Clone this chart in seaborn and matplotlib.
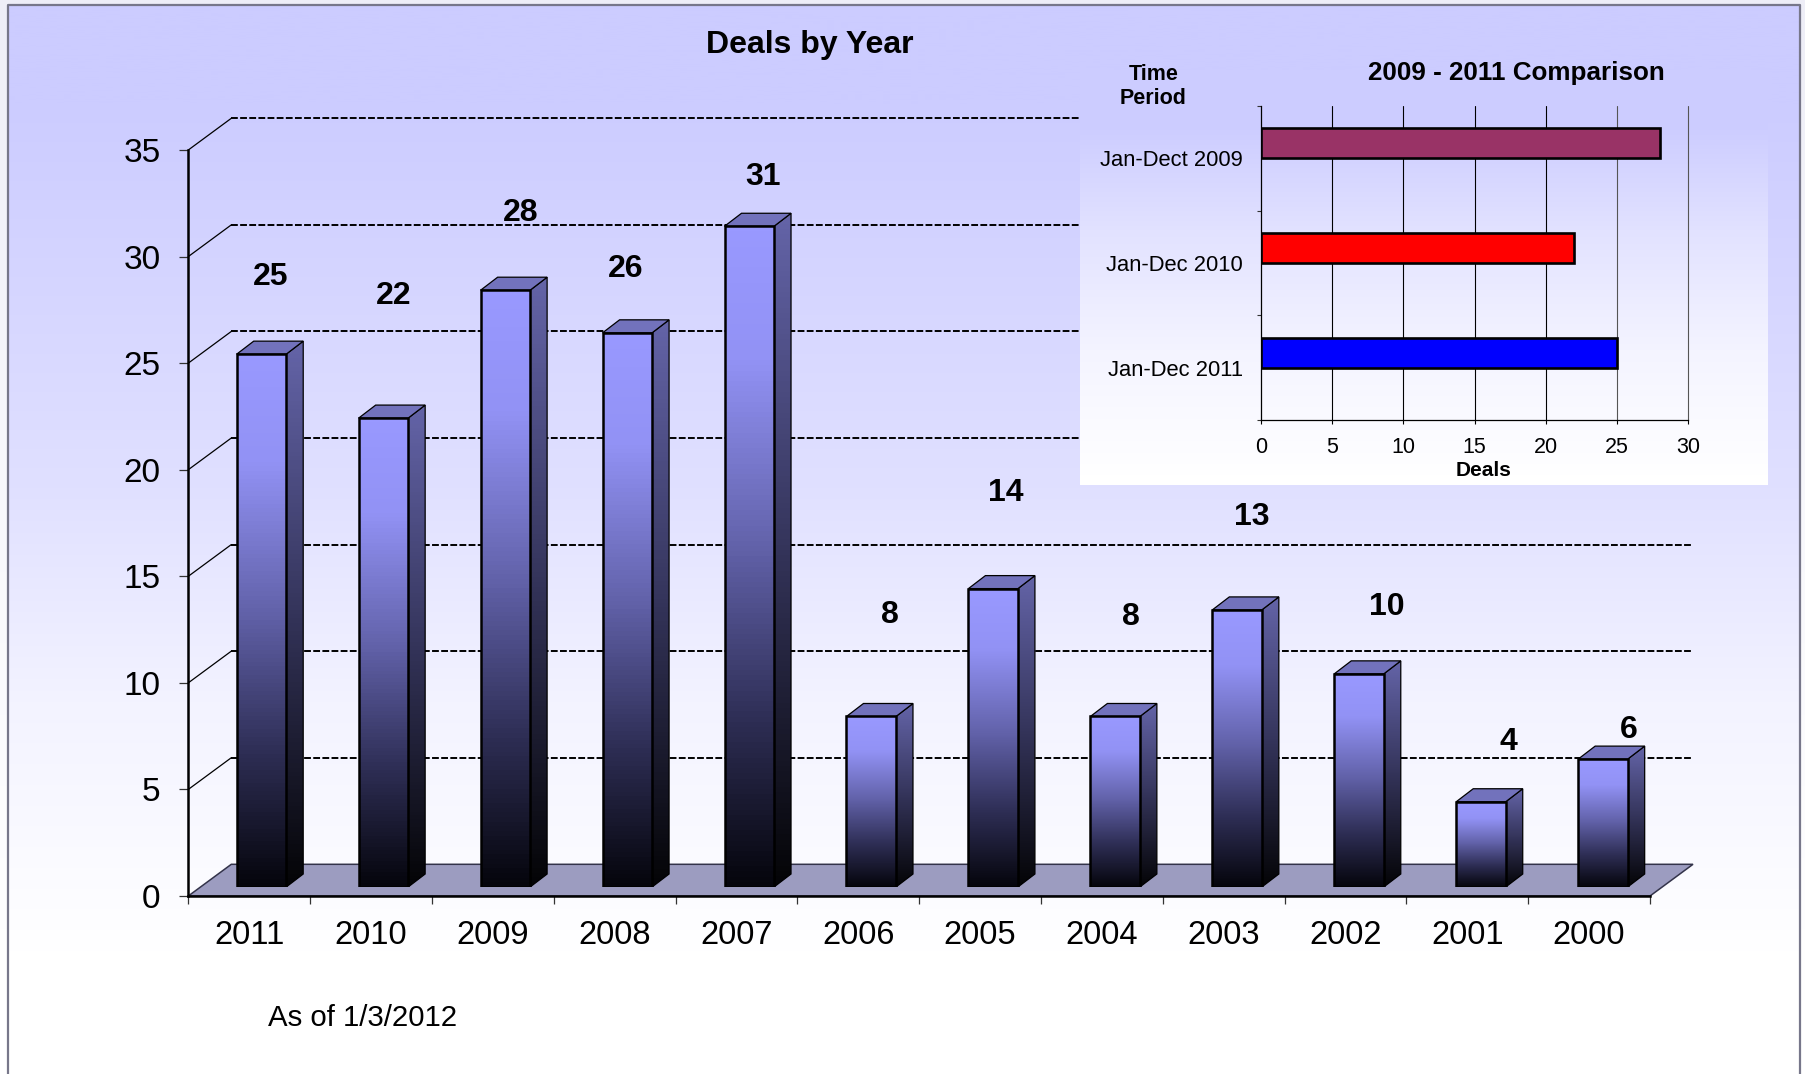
"""
Deals by Year: pseudo-3D column chart with a small 2009 - 2011 comparison inset.
"""

import numpy as np
import pandas as pd
import matplotlib
matplotlib.use('Agg')
import matplotlib.pyplot as plt
from matplotlib.colors import LinearSegmentedColormap
from matplotlib.patches import Polygon, Rectangle
import seaborn as sns

YEARS = ['2011', '2010', '2009', '2008', '2007', '2006',
         '2005', '2004', '2003', '2002', '2001', '2000']
DEALS = [25, 22, 28, 26, 31, 8, 14, 8, 13, 10, 4, 6]
Y_TICKS = [0, 5, 10, 15, 20, 25, 30, 35]

PERIODS = ['Jan-Dect 2009', 'Jan-Dec 2010', 'Jan-Dec 2011']
PERIOD_DEALS = [28, 22, 25]
PERIOD_COLORS = ['#993366', '#FF0000', '#0000FF']
INSET_TICKS = [0, 5, 10, 15, 20, 25, 30]

# the value labels float at uneven distances from the columns (pixels from bar top centre)
LABEL_DX = [9, 10, 15.5, -1.5, 14, 18.5, 12.5, 15.5, 14.5, 27.5, 27, 25.5]
LABEL_DY = [77, 122, 77.5, 64, 49, 101, 96, 99.5, 92.5, 67, 60, 29]

W, H = 1805, 1074
DPI = 100


def axes_px(fig, left, top, right, bottom, **kw):
    return fig.add_axes([left / W, 1 - bottom / H, (right - left) / W, (bottom - top) / H], **kw)


def vgrad(ys, stops_y, stops_v):
    v = np.interp(ys, stops_y, stops_v) / 255.0
    return np.dstack([v, v, np.ones_like(v)]).reshape(len(ys), 1, 3)


def shaded(ax, patch, cmap, extent, z):
    ax.add_patch(patch)
    patch.set_facecolor('none')
    img = ax.imshow(np.linspace(1, 0, 128)[:, None], cmap=cmap, vmin=0, vmax=1,
                    extent=extent, aspect='auto', zorder=z)
    img.set_clip_path(patch)


def main():
    sns.set_theme(style='white')
    plt.rcParams['font.family'] = ['Liberation Sans', 'DejaVu Sans']

    fig = plt.figure(figsize=(W / DPI, H / DPI), dpi=DPI, facecolor='white')

    # page background + frame
    bg = axes_px(fig, 0, 0, W, H)
    ys = np.arange(H)
    outer = np.interp(ys, [0, 500, 1000], [238, 248, 255]) / 255.0
    outer = np.dstack([outer, outer, np.interp(ys, [0, 500, 1000], [247, 252, 255]) / 255.0])
    bg.imshow(outer.reshape(H, 1, 3), extent=(0, W, H, 0), aspect='auto')
    bg.imshow(vgrad(ys, [4, 100, 485, 700, 950], [204, 204, 224, 243, 255]),
              extent=(8, 1800, H, 4.5), aspect='auto')
    bg.plot([8, 8, 1800, 1800], [H, 4.5, 4.5, H], color='#77778a', lw=1.6, zorder=4)
    bg.set_xlim(0, W)
    bg.set_ylim(H, 0)
    bg.axis('off')

    # main axes: scale, floor and back wall lines
    ax = axes_px(fig, 188.3, 150, 1650, 896)
    ax.patch.set_alpha(0)
    ax.set_xlim(0, 12)
    ax.set_ylim(0, 35)
    unit_x, unit_y = (1650 - 188.3) / 12, 746 / 35
    back_x, back_y = 43 / unit_x, 31.7 / unit_y
    ax.add_patch(Polygon([(0, 0), (12, 0), (12 + back_x, back_y), (back_x, back_y)],
                         closed=True, facecolor='#9C9CC0', edgecolor='#33334a',
                         lw=1.1, zorder=1, clip_on=False))
    for v in Y_TICKS[1:]:
        ax.plot([back_x, 12 + back_x], [v + back_y] * 2, color='black', lw=1.4,
                ls=(0, (3.5, 1.2)), clip_on=False, zorder=1)
        ax.plot([0, back_x], [v, v + back_y], color='black', lw=0.9, clip_on=False, zorder=1)

    ax.set_yticks(Y_TICKS)
    ax.set_xticks(np.arange(13))
    ax.set_xticklabels([])
    ax.set_xticks(np.arange(12) + 0.5, labels=YEARS, minor=True)
    ax.tick_params(axis='y', left=True, length=6.5, width=0.9, color='#333333', pad=13.5,
                   labelsize=24, labelcolor='black')
    ax.tick_params(axis='x', which='major', bottom=True, length=6, width=0.9, color='#333333')
    ax.tick_params(axis='x', which='minor', bottom=False, length=0, pad=17.2, labelsize=23.5,
                   labelcolor='black')
    sns.despine(ax=ax, top=True, right=True)
    for side in ('left', 'bottom'):
        ax.spines[side].set_color('black')
        ax.spines[side].set_linewidth(1.8)
        ax.spines[side].set_zorder(6)

    # columns sit on the floor plane, a little above and right of the axis line
    bars = axes_px(fig, 200.5, 141, 1663.9, 887)
    bars.patch.set_alpha(0)
    df = pd.DataFrame({'year': YEARS, 'deals': DEALS})
    sns.barplot(data=df, x='year', y='deals', order=YEARS, width=49.5 / 121.95,
                color='#9999FF', edgecolor='black', linewidth=1.8, saturation=1,
                ax=bars, zorder=4)
    bars.set_xlim(-0.5, 11.5)
    bars.set_ylim(0, 35)
    front_cmap = LinearSegmentedColormap.from_list(
        'front', [(0, '#05050c'), (0.25, '#2e2e55'), (0.5, '#5f5fa5'), (0.8, '#9292f5'), (1, '#9999FF')])
    side_cmap = LinearSegmentedColormap.from_list(
        'side', [(0, '#040406'), (0.5, '#34345a'), (1, '#6464a8')])
    dx, dy = 17 / 121.95, 13 / unit_y
    for bar, val, lx, ly in zip(list(bars.patches), DEALS, LABEL_DX, LABEL_DY):
        x0, w, h = bar.get_x(), bar.get_width(), bar.get_height()
        x1 = x0 + w
        shaded(bars, Polygon([(x1, 0), (x1 + dx, dy), (x1 + dx, h + dy), (x1, h)], closed=True, lw=0),
               side_cmap, (x1, x1 + dx, 0, h + dy), 2)
        bars.add_patch(Polygon([(x1, 0), (x1 + dx, dy), (x1 + dx, h + dy), (x1, h)], closed=True,
                               facecolor='none', edgecolor='black', lw=0.9, zorder=3))
        bars.add_patch(Polygon([(x0, h), (x0 + dx, h + dy), (x1 + dx, h + dy), (x1, h)], closed=True,
                               facecolor='#7272BC', edgecolor='black', lw=0.9, zorder=3))
        shaded(bars, Rectangle((x0, 0), w, h, lw=0), front_cmap, (x0, x1, 0, h), 3.5)
        bar.set_facecolor('none')
        bars.annotate(str(val), (x0 + w / 2, h), xytext=(lx, ly), textcoords='offset pixels',
                      ha='center', va='center', fontsize=23, fontweight='bold', color='black')
    bars.set_xlim(-0.5, 11.5)
    bars.set_ylim(0, 35)
    bars.axis('off')

    # panel behind the inset hides the back wall lines
    panel = axes_px(fig, 1080, 70, 1768, 485)
    panel.imshow(vgrad(np.arange(70, 485), [85, 125, 230, 350, 475], [204, 204, 226, 244, 255]),
                 aspect='auto')
    panel.axis('off')

    # inset with the last three years
    ins = axes_px(fig, 1261, 106, 1688, 420)
    ins.patch.set_alpha(0)
    ins_df = pd.DataFrame({'period': PERIODS, 'deals': PERIOD_DEALS, 'group': 'Deals'})
    # the bars fill only the upper half of each band: second hue level stays empty
    sns.barplot(data=ins_df, y='period', x='deals', hue='group', hue_order=['Deals', 'empty'],
                order=PERIODS, width=0.574, dodge=True, edgecolor='black', linewidth=1.9,
                saturation=1, legend=False, ax=ins, zorder=3)
    for bar, col in zip(ins.patches, PERIOD_COLORS):
        bar.set_facecolor(col)
    ins.set_xlim(0, 30)
    ins.set_ylim(2.5, -0.5)
    ins.set_xticks(INSET_TICKS)
    ins.set_yticks(np.arange(-0.5, 3))
    ins.set_yticklabels([])
    ins.set_yticks(np.arange(3), labels=PERIODS, minor=True)
    ins.set_xlabel('')
    ins.set_ylabel('')
    for v in INSET_TICKS[1:]:
        ins.axvline(v, color='black' if v < 25 else '#555555', lw=0.8, zorder=1, clip_on=False)
    ins.tick_params(axis='x', bottom=True, length=3.2, width=0.8, color='black', pad=9.4,
                    labelsize=15.5, labelcolor='black')
    ins.tick_params(axis='y', which='major', left=True, length=3.2, width=0.8, color='#333333')
    ins.tick_params(axis='y', which='minor', left=False, length=0, pad=13.2, labelsize=15.8,
                    labelcolor='black')
    for tick_label in ins.get_yticklabels(minor=True):
        tick_label.set_y(tick_label.get_position()[1])
    sns.despine(ax=ins, top=True, right=True)
    for side in ('left', 'bottom'):
        ins.spines[side].set_color('black')
        ins.spines[side].set_linewidth(0.9)

    def label(x, y, s, **kw):
        fig.text(x / W, 1 - y / H, s, va='center', color='black', **kw)

    label(810, 45, 'Deals by Year', ha='center', fontsize=23, fontweight='bold')
    label(268, 1017.5, 'As of 1/3/2012', ha='left', fontsize=21.2)
    label(1516, 73, '2009 - 2011 Comparison', ha='center', fontsize=18.7, fontweight='bold')
    label(1153.5, 74, 'Time', ha='center', fontsize=15.5, fontweight='bold')
    label(1153.5, 99, 'Period', ha='center', fontsize=15.5, fontweight='bold')
    label(1484, 470, 'Deals', ha='center', fontsize=15, fontweight='bold')

    plt.savefig('out.png', dpi=DPI)


if __name__ == "__main__":
    main()
